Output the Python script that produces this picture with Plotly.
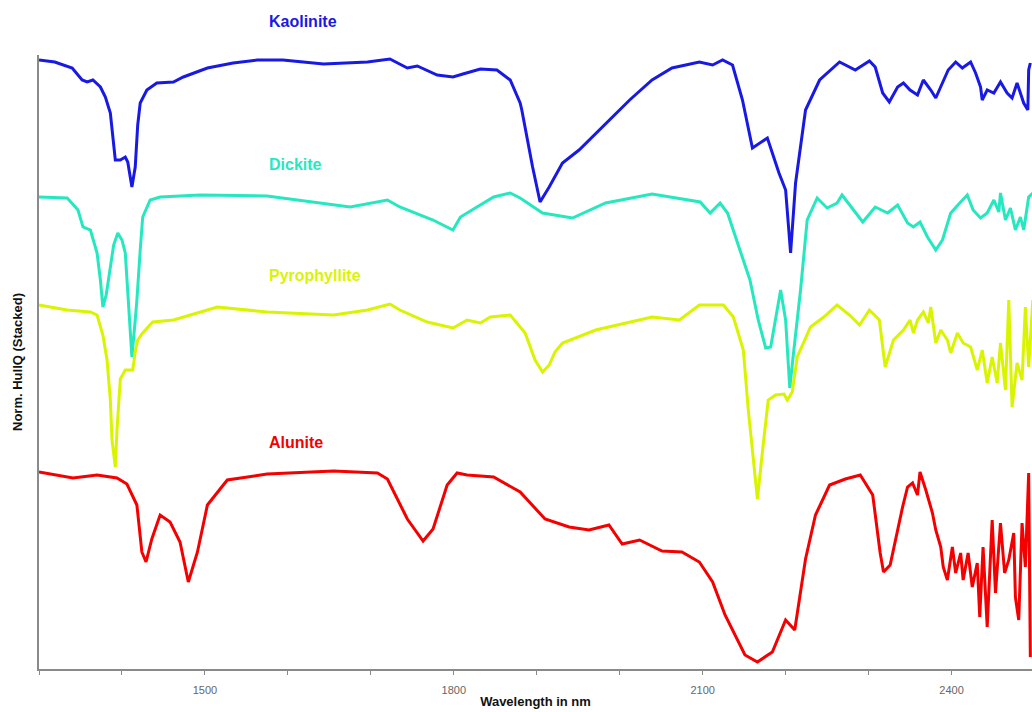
import plotly.graph_objects as go

# Stacked hull-quotient spectra (wavelength in nm, stacked normalised value)
kaolinite_wl = [1300, 1319, 1340, 1352, 1358, 1365, 1374, 1380, 1386, 1389, 1392, 1398, 1404, 1407, 1412,
                1416, 1419, 1422, 1430, 1442, 1462, 1474, 1503, 1534, 1563, 1594, 1643, 1696, 1723, 1744,
                1756, 1780, 1799, 1811, 1832, 1852, 1868, 1880, 1882, 1895, 1904, 1915, 1931, 1951, 1975,
                2012, 2039, 2063, 2096, 2112, 2124, 2136, 2148, 2160, 2178, 2192, 2200, 2206, 2212, 2224,
                2241, 2265, 2284, 2301, 2308, 2317, 2325, 2335, 2342, 2350, 2359, 2366, 2375, 2381, 2389,
                2396, 2405, 2413, 2423, 2429, 2435, 2437, 2443, 2451, 2459, 2467, 2473, 2479, 2483, 2487,
                2492, 2493, 2495]
kaolinite_val = [6.09, 6.07, 6.01, 5.89, 5.87, 5.89, 5.82, 5.72, 5.56, 5.34, 5.09, 5.09, 5.12, 5.07, 4.82,
                 5.02, 5.44, 5.66, 5.79, 5.86, 5.87, 5.92, 6.01, 6.06, 6.09, 6.09, 6.05, 6.07, 6.10, 6.01,
                 6.03, 5.94, 5.92, 5.95, 6.00, 5.99, 5.89, 5.66, 5.59, 5.02, 4.67, 4.82, 5.06, 5.19, 5.39,
                 5.69, 5.89, 6.01, 6.07, 6.04, 6.09, 6.04, 5.69, 5.21, 5.31, 4.96, 4.79, 4.16, 4.86, 5.59,
                 5.89, 6.07, 5.99, 6.08, 6.02, 5.76, 5.67, 5.82, 5.86, 5.79, 5.74, 5.89, 5.79, 5.71, 5.86,
                 5.99, 6.07, 6.01, 6.07, 5.96, 5.82, 5.69, 5.79, 5.76, 5.87, 5.76, 5.71, 5.86, 5.76, 5.66,
                 5.59, 5.99, 6.06]

dickite_wl = [1300, 1334, 1347, 1353, 1362, 1370, 1374, 1377, 1381, 1386, 1390, 1395, 1400, 1404, 1407,
              1410, 1412, 1416, 1418, 1422, 1425, 1434, 1446, 1494, 1575, 1675, 1720, 1735, 1775, 1799,
              1808, 1848, 1868, 1880, 1907, 1943, 1983, 2039, 2097, 2109, 2121, 2130, 2145, 2157, 2167,
              2176, 2182, 2194, 2200, 2205, 2209, 2218, 2226, 2238, 2250, 2262, 2268, 2293, 2308, 2323,
              2335, 2347, 2354, 2362, 2371, 2381, 2389, 2399, 2411, 2419, 2426, 2435, 2443, 2451, 2457,
              2459, 2465, 2471, 2477, 2483, 2487, 2493, 2498]
dickite_val = [4.72, 4.71, 4.59, 4.42, 4.39, 4.16, 3.89, 3.62, 3.74, 4.02, 4.24, 4.36, 4.29, 4.16, 3.79,
               3.39, 3.12, 3.49, 3.69, 4.19, 4.52, 4.69, 4.72, 4.74, 4.73, 4.62, 4.69, 4.62, 4.49, 4.39,
               4.52, 4.72, 4.76, 4.71, 4.56, 4.51, 4.66, 4.75, 4.67, 4.56, 4.66, 4.56, 4.19, 3.89, 3.49,
               3.21, 3.22, 3.79, 3.49, 2.81, 3.12, 3.79, 4.49, 4.71, 4.61, 4.66, 4.74, 4.47, 4.62, 4.56,
               4.64, 4.46, 4.42, 4.47, 4.32, 4.19, 4.29, 4.56, 4.67, 4.74, 4.59, 4.51, 4.56, 4.69, 4.57,
               4.76, 4.49, 4.61, 4.39, 4.52, 4.39, 4.72, 4.76]

pyrophyllite_wl = [1300, 1334, 1362, 1370, 1377, 1382, 1386, 1388, 1392, 1394, 1398, 1404, 1413, 1416, 1419,
                   1425, 1437, 1462, 1515, 1575, 1655, 1696, 1723, 1735, 1768, 1799, 1816, 1832, 1844, 1868,
                   1880, 1886, 1898, 1907, 1915, 1922, 1931, 1971, 2039, 2072, 2096, 2125, 2137, 2149, 2155,
                   2160, 2166, 2172, 2179, 2188, 2198, 2202, 2208, 2214, 2230, 2246, 2262, 2277, 2289, 2301,
                   2313, 2320, 2330, 2342, 2350, 2354, 2359, 2366, 2372, 2375, 2381, 2387, 2395, 2399, 2407,
                   2414, 2423, 2431, 2437, 2443, 2449, 2455, 2459, 2465, 2469, 2473, 2479, 2485, 2489, 2493,
                   2498]
pyrophyllite_val = [3.64, 3.59, 3.57, 3.54, 3.34, 3.09, 2.69, 2.29, 2.02, 2.39, 2.90, 2.99, 2.99, 3.17, 3.29,
                    3.36, 3.47, 3.49, 3.62, 3.57, 3.54, 3.59, 3.65, 3.59, 3.47, 3.41, 3.49, 3.46, 3.52, 3.54,
                    3.42, 3.36, 3.09, 2.97, 3.04, 3.17, 3.26, 3.39, 3.52, 3.49, 3.64, 3.64, 3.52, 3.19, 2.59,
                    2.19, 1.70, 2.17, 2.69, 2.74, 2.75, 2.69, 2.77, 3.12, 3.42, 3.52, 3.64, 3.54, 3.44, 3.59,
                    3.49, 3.02, 3.29, 3.39, 3.49, 3.36, 3.49, 3.57, 3.46, 3.62, 3.26, 3.39, 3.29, 3.16, 3.36,
                    3.26, 3.22, 2.99, 3.19, 2.86, 3.12, 2.86, 3.26, 2.79, 3.69, 2.62, 3.06, 2.89, 3.62, 3.02,
                    3.69]

alunite_wl = [1300, 1341, 1370, 1394, 1406, 1418, 1424, 1429, 1436, 1446, 1458, 1470, 1480, 1491, 1503,
              1527, 1575, 1655, 1708, 1720, 1744, 1763, 1775, 1792, 1804, 1816, 1848, 1880, 1910, 1939,
              1963, 1987, 2003, 2024, 2051, 2075, 2096, 2112, 2127, 2151, 2166, 2184, 2200, 2211, 2224,
              2236, 2253, 2272, 2290, 2305, 2314, 2318, 2326, 2335, 2341, 2347, 2353, 2359, 2362, 2369,
              2377, 2381, 2387, 2390, 2395, 2401, 2405, 2411, 2414, 2420, 2425, 2431, 2434, 2438, 2443,
              2449, 2453, 2459, 2464, 2469, 2475, 2477, 2481, 2485, 2489, 2493, 2495]
alunite_val = [1.97, 1.91, 1.94, 1.91, 1.85, 1.64, 1.17, 1.07, 1.30, 1.54, 1.47, 1.27, 0.87, 1.17, 1.64,
               1.89, 1.95, 1.98, 1.96, 1.90, 1.50, 1.28, 1.40, 1.84, 1.96, 1.94, 1.92, 1.77, 1.50, 1.42,
               1.39, 1.44, 1.25, 1.29, 1.18, 1.17, 1.07, 0.87, 0.54, 0.14, 0.07, 0.17, 0.49, 0.39, 1.10,
               1.54, 1.84, 1.90, 1.94, 1.74, 1.16, 0.97, 1.04, 1.39, 1.62, 1.82, 1.86, 1.74, 1.97, 1.79,
               1.56, 1.39, 1.22, 1.02, 0.89, 1.22, 0.96, 1.16, 0.89, 1.16, 0.82, 1.06, 0.52, 1.22, 0.42,
               1.49, 0.76, 1.46, 0.96, 1.09, 1.36, 0.72, 0.49, 1.46, 1.02, 1.96, 0.12]

mineral_names = ["Kaolinite", "Dickite", "Pyrophyllite", "Alunite"]
mineral_colors = ["rgb(25,25,228)", "rgb(38,232,192)", "rgb(218,244,0)", "rgb(244,0,0)"]
# name label anchor (wavelength, stacked value)
label_wl = [1575, 1575, 1575, 1575]
label_val = [6.47, 5.05, 3.94, 2.27]

x_tick_vals = [1300, 1400, 1500, 1600, 1700, 1800, 1900, 2000, 2100, 2200, 2300, 2400]
x_tick_text = ["", "", "1500", "", "", "1800", "", "", "2100", "", "", "2400"]

x_range = [1300, 2497]
y_range = [0, 6.14]

series = [
    (kaolinite_wl, kaolinite_val),
    (dickite_wl, dickite_val),
    (pyrophyllite_wl, pyrophyllite_val),
    (alunite_wl, alunite_val),
]

fig = go.Figure()
for (wl, val), name, color in zip(series, mineral_names, mineral_colors):
    fig.add_trace(go.Scatter(x=wl, y=val, mode="lines", name=name,
                             line=dict(color=color, width=3)))

# labels placed in paper space so the top one may sit above the plotting area
for name, color, lx, ly in zip(mineral_names, mineral_colors, label_wl, label_val):
    fig.add_annotation(x=lx, xref="x",
                       y=(ly - y_range[0]) / (y_range[1] - y_range[0]), yref="paper",
                       text=f"<b>{name}</b>", showarrow=False,
                       xanchor="left", yanchor="middle",
                       font=dict(family="Liberation Sans, Arial", size=16, color=color))

fig.update_layout(
    width=1032, height=712,
    margin=dict(l=39, r=0, t=55, b=43),
    paper_bgcolor="white", plot_bgcolor="white",
    showlegend=False,
    font=dict(family="Liberation Sans, Arial"),
    xaxis=dict(range=x_range, tickvals=x_tick_vals, ticktext=x_tick_text,
               ticks="outside", ticklen=4, tickcolor="#8a8a8a", tickwidth=1,
               ticklabelstandoff=6, automargin=False,
               showline=True, linecolor="#8a8a8a", linewidth=1.5,
               showgrid=False, zeroline=False,
               tickfont=dict(size=11, color="#666666"),
               title=dict(text="<b>Wavelength in nm</b>", standoff=2,
                          font=dict(size=13, color="#111111"))),
    yaxis=dict(range=y_range, showticklabels=False, ticks="",
               showline=True, linecolor="#8a8a8a", linewidth=1.5,
               showgrid=False, zeroline=False, automargin=False,
               title=dict(text="<b>Norm. HullQ (Stacked)</b>", standoff=12,
                          font=dict(size=13, color="#111111"))),
)

fig.write_html("out.html")
